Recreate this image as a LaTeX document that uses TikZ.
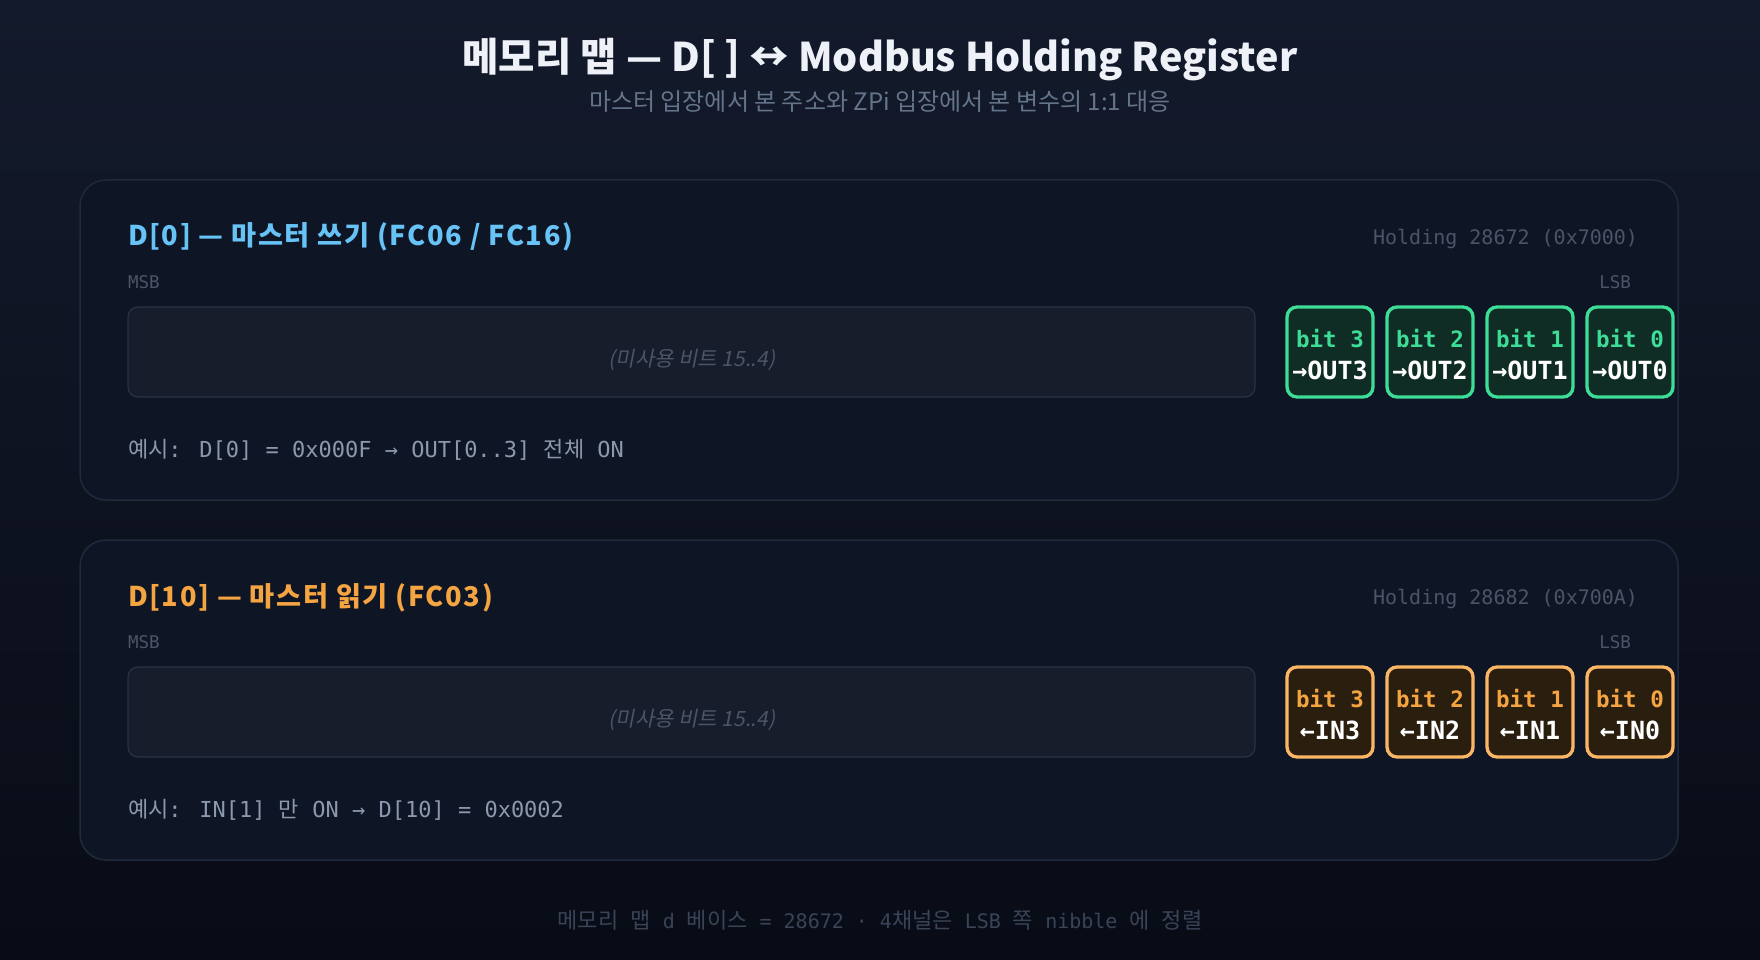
\documentclass[tikz,border=0pt]{standalone}
\usepackage{fontspec}
\setmainfont{Noto Sans CJK KR}
\newfontfamily\kr{Noto Sans CJK KR}
\newfontfamily\krtit[LetterSpace=6]{Noto Sans CJK KR}
\newfontfamily\krit[FakeSlant=0.2]{Noto Sans CJK KR}
\newfontfamily\monoF{DejaVu Sans Mono}
\definecolor{bgtop}{HTML}{131A2B}
\definecolor{bgbot}{HTML}{090C16}
\definecolor{cardfill}{HTML}{0E1626}
\definecolor{cardline}{HTML}{1F2A3A}
\definecolor{barfill}{HTML}{171D2B}
\definecolor{barline}{HTML}{283244}
\definecolor{titlewhite}{HTML}{EEF2F8}
\definecolor{subgray}{HTML}{64748B}
\definecolor{dimgray}{HTML}{4B5565}
\definecolor{exgray}{HTML}{8C98AC}
\definecolor{footgray}{HTML}{3A4457}
\definecolor{bluet}{HTML}{67C2F5}
\definecolor{oranget}{HTML}{F5A442}
\definecolor{gline}{HTML}{3DDC97}
\definecolor{gfill}{HTML}{0F2D24}
\definecolor{oline}{HTML}{FBB665}
\definecolor{ofill}{HTML}{2A1E0F}
\begin{document}
\begin{tikzpicture}[x=1pt,y=-1pt,
  card/.style={draw=cardline,line width=1.5pt,fill=cardfill,rounded corners=26pt},
  bar/.style={draw=barline,line width=1.2pt,fill=barfill,rounded corners=10pt},
  gbit/.style={draw=gline,line width=3.3pt,fill=gfill,rounded corners=10pt},
  obit/.style={draw=oline,line width=3.3pt,fill=ofill,rounded corners=10pt},
  txt/.style={inner sep=0pt,outer sep=0pt},
  cardtitle/.style={txt,anchor=base west,font=\krtit\bfseries\fontsize{27.2}{31}\selectfont},
  holding/.style={txt,anchor=base east,text=dimgray,font=\monoF\fontsize{20}{24}\selectfont},
  msb/.style={txt,text=dimgray,font=\monoF\fontsize{17.5}{21}\selectfont},
  unused/.style={txt,anchor=base,text=dimgray,font=\krit\fontsize{21}{25}\selectfont},
  bitlbl/.style={txt,anchor=base,font=\monoF\bfseries\fontsize{22.5}{26}\selectfont},
  outlbl/.style={txt,anchor=base,text=white,font=\monoF\bfseries\fontsize{25}{29}\selectfont},
  example/.style={txt,anchor=base west,text=exgray,font=\monoF\fontsize{22}{26}\selectfont}
]
\useasboundingbox (0,0) rectangle (1760,960);
\shade[top color=bgtop,bottom color=bgbot] (0,0) rectangle (1760,960);

% title
\node[txt,anchor=base,text=titlewhite,font=\kr\bfseries\fontsize{39.5}{47}\selectfont] (title) at (880,72) {메모리 맵 — D[ ] ↔ Modbus Holding Register};
\node[txt,anchor=base,text=subgray,font=\kr\fontsize{24}{28}\selectfont] (subtitle) at (880,111) {마스터 입장에서 본 주소와 ZPi 입장에서 본 변수의 1:1 대응};

% ---------- card 1 ----------
\draw[card] (80,180) rectangle (1678,500);
\node[cardtitle,text=bluet] (c1title) at (128,245) {D[0] — 마스터 쓰기 (FC06 / FC16)};
\node[holding] (c1hold) at (1638,244) {Holding 28672 (0x7000)};
\node[msb,anchor=base west] (c1msb) at (128,288) {MSB};
\node[msb,anchor=base east] (c1lsb) at (1631,288) {LSB};
\draw[bar] (128,307) rectangle (1255,397);
\node[unused] (c1unused) at (692,366) {(미사용 비트 15..4)};
\foreach \i/\b in {0/3,1/2,2/1,3/0}{
  \draw[gbit] ({1287+100*\i},307) rectangle ({1373+100*\i},397);
  \node[bitlbl,text=gline] (c1bit\b) at ({1330+100*\i},347) {bit \b};
  \node[outlbl] (c1out\b) at ({1330+100*\i},379) {→OUT\b};
}
\node[example] (c1ex) at (128,457) {{\kr 예시}: D[0] = 0x000F → OUT[0..3] {\kr 전체} ON};

% ---------- card 2 ----------
\draw[card] (80,540) rectangle (1678,860);
\node[cardtitle,text=oranget] (c2title) at (128,606) {D[10] — 마스터 읽기 (FC03)};
\node[holding] (c2hold) at (1638,604) {Holding 28682 (0x700A)};
\node[msb,anchor=base west] (c2msb) at (128,648) {MSB};
\node[msb,anchor=base east] (c2lsb) at (1631,648) {LSB};
\draw[bar] (128,667) rectangle (1255,757);
\node[unused] (c2unused) at (692,726) {(미사용 비트 15..4)};
\foreach \i/\b in {0/3,1/2,2/1,3/0}{
  \draw[obit] ({1287+100*\i},667) rectangle ({1373+100*\i},757);
  \node[bitlbl,text=oranget] (c2bit\b) at ({1330+100*\i},707) {bit \b};
  \node[outlbl] (c2in\b) at ({1330+100*\i},739) {←IN\b};
}
\node[example] (c2ex) at (128,817) {{\kr 예시}: IN[1] {\kr 만} ON → D[10] = 0x0002};

% footer
\node[txt,anchor=base,text=footgray,font=\monoF\fontsize{20}{24}\selectfont] (footer) at (880,928) {{\kr\fontsize{22}{26}\selectfont 메모리} {\kr\fontsize{22}{26}\selectfont 맵} d {\kr\fontsize{22}{26}\selectfont 베이스} = 28672 · 4{\kr\fontsize{22}{26}\selectfont 채널은} LSB {\kr\fontsize{22}{26}\selectfont 쪽} nibble {\kr\fontsize{22}{26}\selectfont 에} {\kr\fontsize{22}{26}\selectfont 정렬}};
\end{tikzpicture}
\end{document}
